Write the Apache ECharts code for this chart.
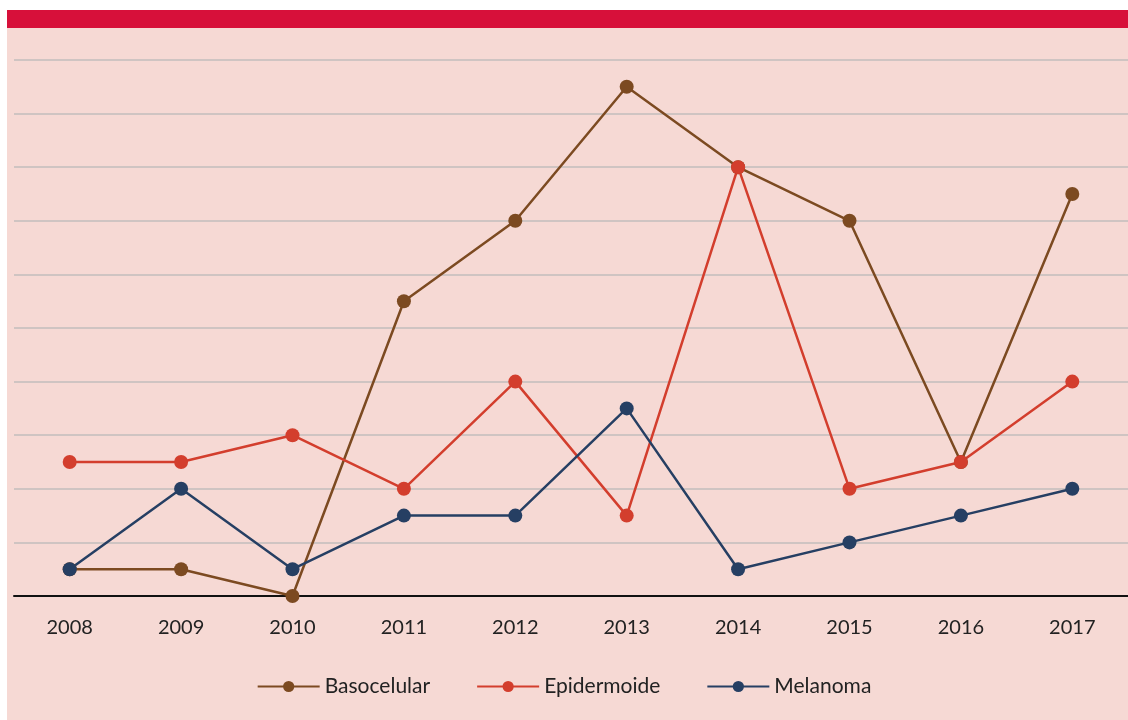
<!DOCTYPE html>
<html>
<head>
    <meta charset="utf-8">
    <title>chart</title>
    <script src="https://cdn.jsdelivr.net/npm/echarts@6/dist/echarts.min.js"></script>
    <style>
        body { margin: 0; background: #fff; }
    </style>
</head>
<body>
<div id="main" style="width: 1128px;height:720px;"></div>
<script>

var years = ['2008', '2009', '2010', '2011', '2012', '2013', '2014', '2015', '2016', '2017'];
var basocelular = [1, 1, 0, 11, 14, 19, 16, 14, 5, 15];
var epidermoide = [5, 5, 6, 4, 8, 3, 16, 4, 5, 8];
var melanoma = [1, 4, 1, 3, 3, 7, 1, 2, 3, 4];

function lineSeries(name, data, color) {
    return {
        name: name,
        type: 'line',
        data: data,
        symbol: 'circle',
        symbolSize: 14,
        lineStyle: { color: color, width: 2.5 },
        itemStyle: { color: color },
        emphasis: { disabled: true }
    };
}

var option = {
    backgroundColor: '#ffffff',
    animation: false,
    textStyle: { fontFamily: 'Lato, "Open Sans", sans-serif' },
    graphic: [
        { type: 'rect', z: -10, shape: { x: 7, y: 10, width: 1121, height: 710 }, style: { fill: '#f6d9d4' } },
        { type: 'rect', z: -9, shape: { x: 7, y: 10, width: 1121, height: 18 }, style: { fill: '#d7103a' } }
    ],
    grid: { left: 14, right: -1, top: 60, bottom: 124, containLabel: false },
    xAxis: {
        type: 'category',
        data: years,
        boundaryGap: true,
        axisLine: { lineStyle: { color: '#111', width: 2 } },
        axisTick: { show: false },
        axisLabel: { color: '#222', fontSize: 20, margin: 22, fontFamily: 'Lato, sans-serif' }
    },
    yAxis: {
        type: 'value',
        min: 0,
        max: 20,
        interval: 2,
        axisLine: { show: false },
        axisTick: { show: false },
        axisLabel: { show: false },
        splitLine: { lineStyle: { color: '#c2bdbd', width: 1.5 } }
    },
    legend: {
        bottom: 18,
        left: 'center',
        itemWidth: 62,
        itemHeight: 14,
        itemGap: 46,
        textStyle: { color: '#222', fontSize: 21, fontFamily: 'Lato, sans-serif' },
        data: ['Basocelular', 'Epidermoide', 'Melanoma']
    },
    series: [
        lineSeries('Basocelular', basocelular, '#7c4a21'),
        lineSeries('Epidermoide', epidermoide, '#d33e2d'),
        lineSeries('Melanoma', melanoma, '#263f63')
    ]
};

var myChart = echarts.init(document.getElementById('main'));
myChart.setOption(option);

</script>
</body>
</html>
